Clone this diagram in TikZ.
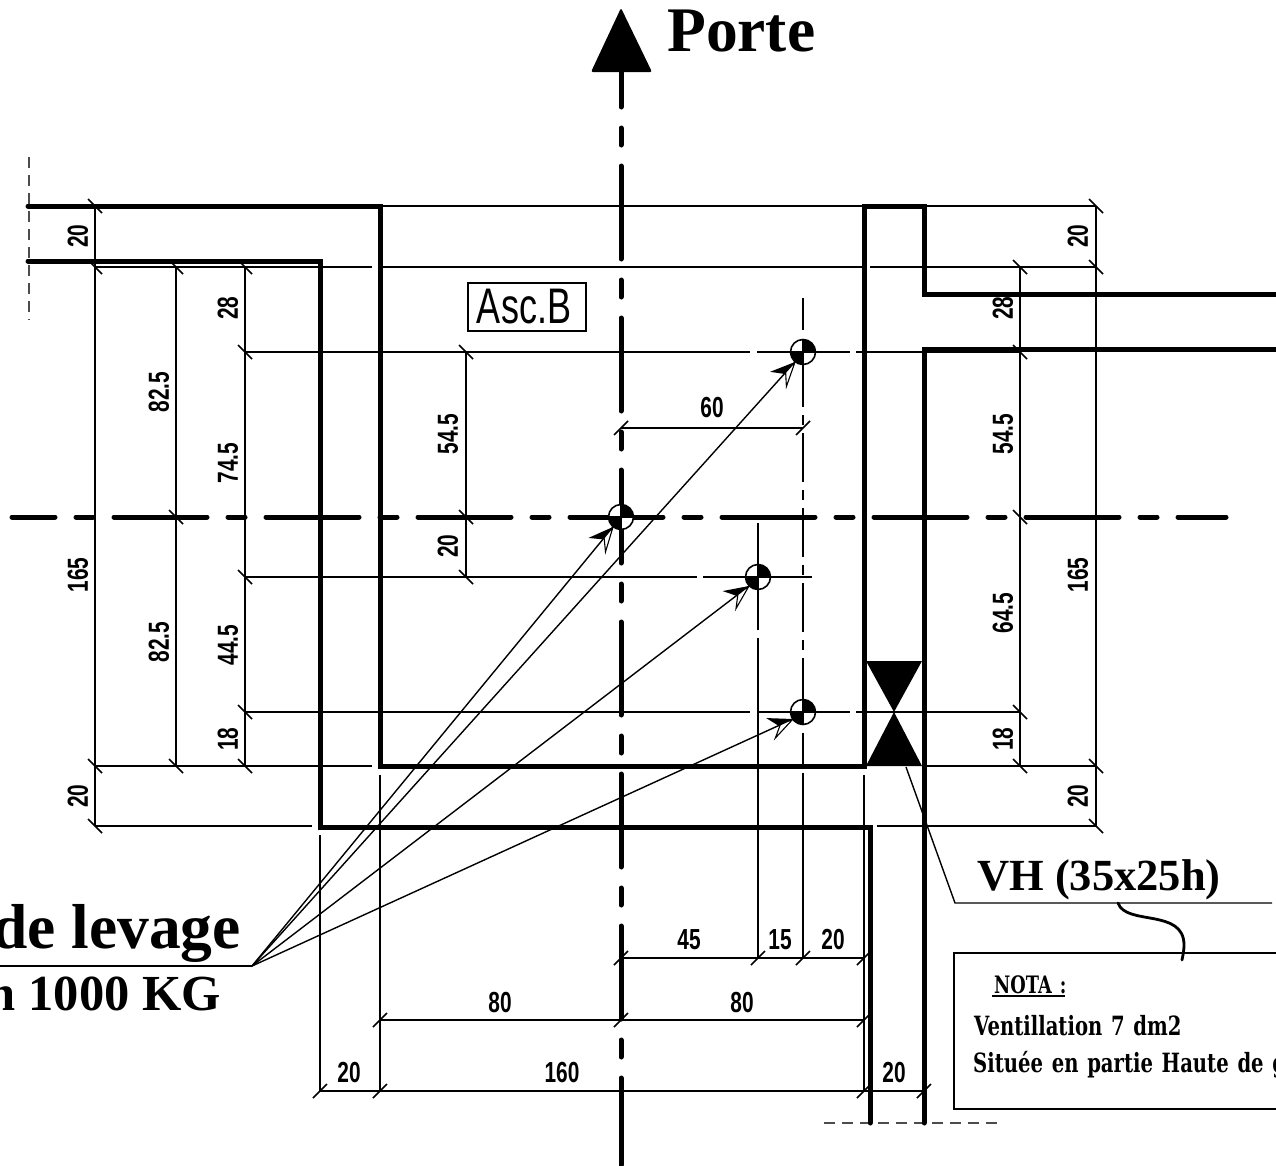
\documentclass[tikz,border=0pt]{standalone}
\usepackage{fontspec}
\usetikzlibrary{calc}
\setmainfont{Liberation Serif}
\newfontfamily\dimfont[FakeStretch=0.72]{Liberation Sans Bold}
\newfontfamily\ascfont[FakeStretch=0.72]{Liberation Sans}
\newfontfamily\notafont[FakeStretch=0.74,WordSpace=1.28]{DejaVu Serif Bold}
\tikzset{
  wall/.style={line width=5pt,line join=miter,line cap=round},
  fine/.style={line width=1.4pt},
  medium/.style={line width=2.2pt},
  axisline/.style={line width=5pt,line cap=round,dash pattern=on 93pt off 21pt on 17pt off 21pt},
  chain/.style={line width=2.2pt,dash pattern=on 10pt off 8pt on 49pt off 8pt},
  hidden/.style={line width=1.4pt,color=black!70,dash pattern=on 11pt off 7pt},
  leader/.style={line width=1.4pt},
  slash/.style={line width=1.7pt},
  dimlab/.style={font=\dimfont\fontsize{29}{29}\selectfont,inner sep=0pt},
  vdimlab/.style={dimlab,rotate=90},
  serifbig/.style={font=\bfseries\fontsize{#1}{#1}\selectfont,inner sep=0pt},
  notatext/.style={font=\notafont\fontsize{26.5}{26.5}\selectfont,inner sep=0pt,anchor=base west},
  notahead/.style={font=\notafont\fontsize{24}{24}\selectfont,inner sep=0pt,anchor=base west}
}
\newcommand{\tickh}[2]{\draw[slash] (#1-7,#2+7) -- (#1+7,#2-7);}
\newcommand{\tickv}[2]{\draw[slash] (#1-7,#2-7) -- (#1+7,#2+7);}
\newcommand{\massmark}[1]{%
  \fill[white] (#1) circle (12.5);
  \fill (#1) -- ++(12.5,0) arc (0:-90:12.5) -- cycle;
  \fill (#1) -- ++(-12.5,0) arc (180:90:12.5) -- cycle;
  \draw[line width=1.6pt] (#1) circle (12.5);
  \draw[line width=1.4pt] ($(#1)+(-12.5,0)$) -- ($(#1)+(12.5,0)$);
  \draw[line width=1.4pt] ($(#1)+(0,-12.5)$) -- ($(#1)+(0,12.5)$);
}
\newcommand{\liftarrow}[2]{%
  \draw[leader] (#2) -- (#1);
  \coordinate (bb) at ($(#1)!24pt!(#2)$);
  \fill ($(bb)!12pt!-90:(#2)$) -- (#1) -- ($(#1)!16pt!(#2)$) -- cycle;
  \filldraw[fill=white,line width=1.1pt] ($(bb)!10pt!90:(#2)$) -- (#1) -- ($(#1)!14pt!(#2)$) -- cycle;
}
\begin{document}
\begin{tikzpicture}[x=1pt,y=-1pt]
\useasboundingbox (0,0) rectangle (1276,1165);
% named centres
\coordinate (ca) at (803,352);
\coordinate (cb) at (621,517);
\coordinate (cc) at (758,577);
\coordinate (cd) at (803,712);
\coordinate (src) at (252,966);
\coordinate (ta) at (795,362);
\coordinate (tb) at (613,527);
\coordinate (tc) at (749,586);
\coordinate (td) at (793,719);
% hidden construction lines
\draw[hidden] (29,157) -- (29,320);
\draw[hidden] (824,1123) -- (1000,1123);
% fine room lines
\draw[medium] (380,206) -- (864,206);
\draw[fine] (380,267) -- (864,267);
% dimension lines vertical
\draw[fine] (95,206) -- (95,826);
\draw[fine] (176,267) -- (176,766);
\draw[fine] (245,267) -- (245,766);
\draw[fine] (466,352) -- (466,577);
\draw[fine] (1020,267) -- (1020,766);
\draw[fine] (1096,206) -- (1096,826);
% extension lines horizontal
\draw[fine] (95,267) -- (372,267);
\draw[fine] (870,267) -- (1096,267);
\draw[fine] (924,206) -- (1096,206);
\draw[fine] (95,826) -- (312,826);
\draw[fine] (877,826) -- (1096,826);
\draw[fine] (95,766) -- (372,766);
\draw[fine] (924,766) -- (1096,766);
\draw[fine] (245,352) -- (750,352);
\draw[fine] (757,352) -- (850,352);
\draw[fine] (856,352) -- (1020,352);
\draw[fine] (245,577) -- (697,577);
\draw[fine] (703,577) -- (812,577);
\draw[fine] (245,712) -- (750,712);
\draw[fine] (757,712) -- (850,712);
\draw[fine] (856,712) -- (1020,712);
% extension lines vertical
\draw[fine] (320,835) -- (320,1091);
\draw[fine] (380,775) -- (380,1091);
\draw[fine] (864,775) -- (864,1091);
% secondary centre lines
\draw[medium] (758,523) -- (758,630);
\draw[medium] (758,638) -- (758,958);
\draw[medium] (803,298) -- (803,330);
\draw[chain] (803,340) -- (803,764);
\draw[medium] (803,773) -- (803,958);
% dimension lines horizontal
\draw[fine] (621,428) -- (803,428);
\draw[fine] (621,958) -- (864,958);
\draw[fine] (380,1020) -- (864,1020);
\draw[fine] (320,1091) -- (924,1091);
% main axes
\draw[axisline,dash phase=56pt] (621,70) -- (621,1165);
\draw[axisline,dash phase=50pt] (12,517) -- (1226,517);
% walls
\draw[wall] (28,206) -- (380,206) -- (380,766) -- (864,766) -- (864,206) -- (924,206) -- (924,294) -- (1280,294);
\draw[wall] (1280,349) -- (924,349) -- (924,1123);
\draw[wall] (28,261) -- (320,261) -- (320,827) -- (870,827) -- (870,1123);
% ventilation symbol
\fill (866,661) -- (922,661) -- (894,712) -- cycle;
\fill (866,766) -- (922,766) -- (894,712) -- cycle;
% ticks
\foreach \yy in {206,267,766,826}{\tickv{95}{\yy}\tickv{1096}{\yy}}
\foreach \yy in {267,517,766}{\tickv{176}{\yy}}
\foreach \yy in {267,352,577,712,766}{\tickv{245}{\yy}}
\foreach \yy in {352,517,577}{\tickv{466}{\yy}}
\foreach \yy in {267,352,517,712,766}{\tickv{1020}{\yy}}
\foreach \xx in {621,803}{\tickh{\xx}{428}}
\foreach \xx in {621,758,803,864}{\tickh{\xx}{958}}
\foreach \xx in {380,621,864}{\tickh{\xx}{1020}}
\foreach \xx in {320,380,864,924}{\tickh{\xx}{1091}}
% arrow at top
\fill[rounded corners=2pt] (621,8) -- (652,72) -- (591,72) -- cycle;
% leaders
\draw[leader] (0,966) -- (src);
% mass marks
\massmark{cb}\massmark{ca}\massmark{cc}\massmark{cd}
\liftarrow{ta}{src}
\liftarrow{tb}{src}
\liftarrow{tc}{src}
\liftarrow{td}{src}
% ventilation leader
\coordinate (vha) at (906,767);
\coordinate (vhb) at (955,903);
\coordinate (vhc) at (1272,903);
\draw[leader] (vha) -- (vhb) -- (vhc);
% NOTA box
\draw[line width=2.4pt] (1282,953) -- (954,953) -- (954,1109) -- (1282,1109);
\coordinate (sqa) at (1118,903);
\coordinate (sqb) at (1182,960);
\draw[line width=2.8pt,line cap=round] (sqa) .. controls (1126,926) and (1184,908) .. (1184,945) .. controls (1184,950) and (1183,955) .. (sqb);
% texts
\node[serifbig=63.5,anchor=base west] (tporte) at (667,51) {Porte};
\node[serifbig=63.5,anchor=base east] (tlevage) at (241,948) {de levage};
\node[serifbig=50.5,anchor=base east] (tkg) at (221,1010) {n 1000 KG};
\node[serifbig=44.5,anchor=base west] (tvh) at (977,890) {VH (35x25h)};
\node[draw,line width=1.4pt,minimum width=118pt,minimum height=48pt,inner sep=0pt] (tasc) at (527,307) {\ascfont\fontsize{50}{50}\selectfont\hspace*{-6pt}Asc.B};
\node[notahead] (tnota) at (994,993) {NOTA :};
\draw[line width=2pt] (992,996) -- (1065,996);
\node[notatext] (tvent) at (974,1035) {Ventillation 7 dm2};
\node[notatext] (tsit) at (973,1072) {Située en partie Haute de g};
% dimension labels
\node[vdimlab] (d1) at (78,236) {20};
\node[vdimlab] (d2) at (78,575) {165};
\node[vdimlab] (d3) at (78,796) {20};
\node[vdimlab] (d4) at (159,392) {82.5};
\node[vdimlab] (d5) at (159,642) {82.5};
\node[vdimlab] (d6) at (228,308) {28};
\node[vdimlab] (d7) at (228,463) {74.5};
\node[vdimlab] (d8) at (228,645) {44.5};
\node[vdimlab] (d9) at (228,739) {18};
\node[vdimlab] (d10) at (448,434) {54.5};
\node[vdimlab] (d11) at (448,546) {20};
\node[vdimlab] (d12) at (1003,308) {28};
\node[vdimlab] (d13) at (1003,434) {54.5};
\node[vdimlab] (d14) at (1003,613) {64.5};
\node[vdimlab] (d15) at (1003,739) {18};
\node[vdimlab] (d16) at (1078,236) {20};
\node[vdimlab] (d17) at (1078,575) {165};
\node[vdimlab] (d18) at (1078,796) {20};
\node[dimlab] (d19) at (712,408) {60};
\node[dimlab] (d20) at (689,940) {45};
\node[dimlab] (d21) at (780,940) {15};
\node[dimlab] (d22) at (833,940) {20};
\node[dimlab] (d23) at (500,1002) {80};
\node[dimlab] (d24) at (742,1002) {80};
\node[dimlab] (d25) at (349,1072) {20};
\node[dimlab] (d26) at (562,1072) {160};
\node[dimlab] (d27) at (894,1072) {20};
\end{tikzpicture}
\end{document}
